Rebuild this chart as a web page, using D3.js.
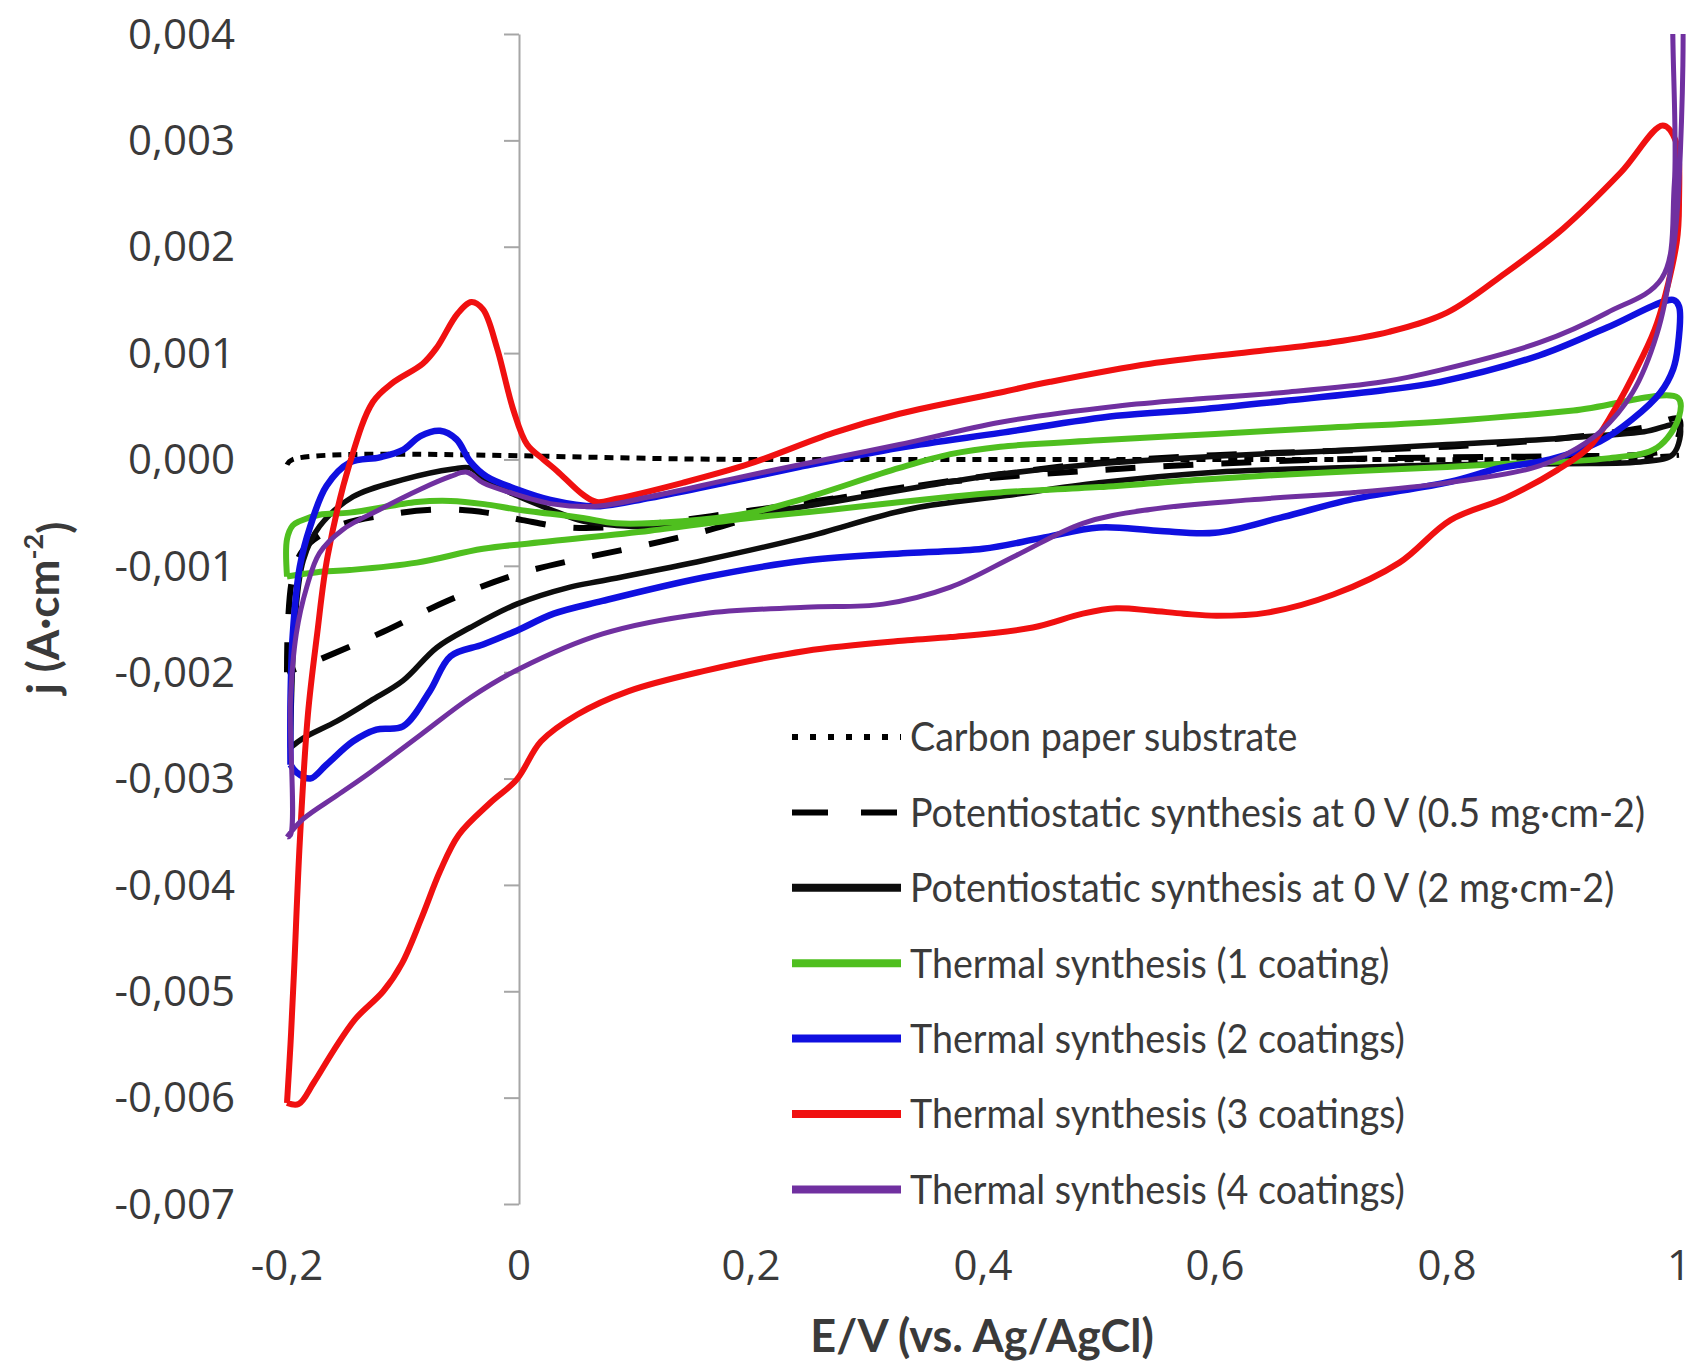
<!DOCTYPE html>
<html>
<head>
<meta charset="utf-8">
<script src="https://cdn.jsdelivr.net/npm/d3@7"></script>
<style>
  body { margin: 0; background: #fff; }
  svg { display: block; }
</style>
</head>
<body>
<div id="chart"></div>
<script>
// axis ticks and labels
const xTicks = [-0.2, 0, 0.2, 0.4, 0.6, 0.8, 1];
const xTickLabels = ['-0,2', '0', '0,2', '0,4', '0,6', '0,8', '1'];
const yTicks = [0.004, 0.003, 0.002, 0.001, 0, -0.001, -0.002, -0.003, -0.004, -0.005, -0.006, -0.007];
const yTickLabels = ['0,004', '0,003', '0,002', '0,001', '0,000', '-0,001', '-0,002', '-0,003', '-0,004', '-0,005', '-0,006', '-0,007'];

const seriesNames = [
    'Carbon paper substrate',
    'Potentiostatic synthesis at 0 V (0.5 mg\u00b7cm-2)',
    'Potentiostatic synthesis at 0 V (2 mg\u00b7cm-2)',
    'Thermal synthesis (1 coating)',
    'Thermal synthesis (2 coatings)',
    'Thermal synthesis (3 coatings)',
    'Thermal synthesis (4 coatings)'
];

// [E (V), j (A/cm2)], each one a full CV loop
const carbonPaper = [[-0.2,-0.00005],[-0.195,0],[0.2,0],[0.6,0],[0.95,0.00001],[1.0,0.00004]];

const potentio05 = [[-0.2,-0.0020],[-0.199,-0.0015],[-0.195,-0.0011],[-0.186,-0.00085],[-0.157,-0.00063],[-0.114,-0.00052],
    [-0.065,-0.00047],[-0.028,-0.0005],[0.003,-0.00057],[0.044,-0.00064],[0.1,-0.00062],[0.2,-0.00048],[0.3,-0.00032],
    [0.4,-0.00016],[0.5,-0.00003],[0.6,0.00004],[0.7,0.00008],[0.8,0.00012],[0.9,0.0002],[0.97,0.0003],[1.0,0.00038],
    [0.995,0.00012],[0.97,0.00005],[0.9,0.00003],[0.8,0.00002],[0.7,0],[0.6,-0.00004],[0.5,-0.0001],[0.4,-0.00018],
    [0.34,-0.00025],[0.283,-0.00035],[0.234,-0.00044],[0.165,-0.00066],[0.107,-0.00081],[0.05,-0.00094],[-0.005,-0.00109],
    [-0.062,-0.00133],[-0.117,-0.00162],[-0.174,-0.00189],[-0.2,-0.002]];

const potentio2 = [[-0.197,-0.00271],[-0.196,-0.0022],[-0.193,-0.0015],[-0.186,-0.00095],[-0.172,-0.00063],[-0.143,-0.00035],
    [-0.1,-0.00019],[-0.057,-0.00009],[-0.042,-0.00008],[-0.028,-0.0002],[-0.002,-0.00034],[0.027,-0.00047],[0.055,-0.00058],
    [0.084,-0.00062],[0.12,-0.00063],[0.2,-0.00052],[0.27,-0.0004],[0.35,-0.00025],[0.415,-0.00014],[0.5,-0.00004],
    [0.6,0.00003],[0.7,0.00008],[0.8,0.00014],[0.9,0.0002],[0.97,0.00026],[1.0,0.00032],
    [0.995,0.00005],[0.97,-0.00002],[0.9,-0.00004],[0.8,-0.00005],[0.7,-0.00008],[0.6,-0.00012],[0.5,-0.00022],
    [0.42,-0.00034],[0.335,-0.00047],[0.247,-0.00073],[0.159,-0.00095],[0.072,-0.00114],[0.044,-0.0012],[-0.002,-0.00136],
    [-0.042,-0.00158],[-0.071,-0.00177],[-0.1,-0.00208],[-0.128,-0.00227],[-0.157,-0.00246],[-0.186,-0.00262],[-0.197,-0.00271]];

const thermal1 = [[-0.2,-0.0011],[-0.2,-0.00075],[-0.195,-0.00062],[-0.189,-0.00058],[-0.172,-0.00052],[-0.146,-0.0005],
    [-0.088,-0.0004],[-0.059,-0.00039],[-0.03,-0.00042],[-0.002,-0.00047],[0.055,-0.00055],[0.084,-0.0006],[0.141,-0.00058],
    [0.2,-0.0005],[0.242,-0.00038],[0.328,-0.00008],[0.372,0.00005],[0.415,0.00012],[0.5,0.00018],[0.6,0.00024],[0.7,0.0003],
    [0.8,0.00036],[0.909,0.00046],[0.999,0.00058],
    [1.0,0.0004],[0.981,0.00011],[0.938,0.00001],[0.851,-0.00004],[0.8,-0.00007],[0.7,-0.00012],[0.587,-0.00019],
    [0.5,-0.00026],[0.415,-0.00031],[0.372,-0.00035],[0.271,-0.00047],[0.199,-0.00055],[0.113,-0.00067],[0.027,-0.00077],
    [-0.031,-0.00084],[-0.088,-0.00097],[-0.146,-0.00104],[-0.174,-0.00106],[-0.2,-0.0011]];

const thermal2 = [[-0.197,-0.00287],[-0.197,-0.00227],[-0.195,-0.00164],[-0.189,-0.00101],[-0.18,-0.00063],[-0.166,-0.00025],
    [-0.146,-0.00003],[-0.12,0.00002],[-0.1,0.00009],[-0.085,0.00022],[-0.068,0.00027],[-0.054,0.00019],[-0.042,-0.00002],
    [-0.028,-0.00016],[-0.002,-0.00028],[0.027,-0.00038],[0.067,-0.00044],[0.113,-0.00036],[0.185,-0.0002],[0.242,-0.00007],
    [0.328,0.00011],[0.415,0.00025],[0.515,0.00041],[0.587,0.00047],[0.659,0.00055],[0.745,0.00065],[0.794,0.00073],
    [0.88,0.00098],[0.938,0.00124],[0.995,0.0015],
    [1.0,0.00144],[0.999,0.00106],[0.995,0.00085],[0.984,0.00063],[0.96,0.00038],[0.932,0.00017],[0.889,0],[0.846,-0.00008],
    [0.803,-0.00021],[0.716,-0.00038],[0.659,-0.00054],[0.6,-0.00069],[0.55,-0.00067],[0.5,-0.00064],[0.45,-0.00074],
    [0.4,-0.00084],[0.335,-0.00088],[0.247,-0.00095],[0.159,-0.00111],[0.072,-0.00133],[0.03,-0.00145],[-0.002,-0.00161],
    [-0.031,-0.00174],[-0.059,-0.00185],[-0.077,-0.00218],[-0.1,-0.00251],[-0.123,-0.00254],[-0.143,-0.00265],
    [-0.166,-0.00287],[-0.18,-0.003],[-0.192,-0.00294],[-0.197,-0.00287]];

const thermal3 = [[-0.2,-0.00605],[-0.197,-0.0055],[-0.194,-0.00483],[-0.189,-0.0036],[-0.182,-0.0024],[-0.174,-0.00164],
    [-0.165,-0.00091],[-0.146,-0.00004],[-0.126,0.00054],[-0.109,0.00072],[-0.083,0.0009],[-0.071,0.00105],[-0.053,0.00137],
    [-0.041,0.00148],[-0.031,0.00141],[-0.019,0.00105],[-0.005,0.00047],[0.007,0.00014],[0.021,0],[0.033,-0.00011],
    [0.055,-0.00033],[0.067,-0.0004],[0.084,-0.00037],[0.141,-0.00022],[0.199,-0.00004],[0.271,0.00025],[0.328,0.00043],
    [0.415,0.00063],[0.458,0.00073],[0.544,0.0009],[0.63,0.00101],[0.7,0.0011],[0.75,0.0012],[0.8,0.00138],
    [0.85,0.00175],[0.9,0.00217],[0.95,0.0027],[0.986,0.00314],[0.997,0.003],[1.0,0.0024],
    [0.998,0.00204],[0.981,0.00128],[0.966,0.00091],[0.943,0.00044],[0.923,0.00012],[0.895,-0.0001],[0.851,-0.00036],
    [0.803,-0.00057],[0.759,-0.00097],[0.702,-0.00127],[0.645,-0.00144],[0.601,-0.00147],[0.573,-0.00145],[0.544,-0.00142],
    [0.515,-0.0014],[0.486,-0.00145],[0.443,-0.00158],[0.372,-0.00167],[0.335,-0.0017],[0.247,-0.0018],[0.159,-0.00199],
    [0.094,-0.00218],[0.05,-0.0024],[0.019,-0.00265],[-0.002,-0.00301],[-0.025,-0.00323],[-0.052,-0.00353],[-0.068,-0.00387],
    [-0.084,-0.00431],[-0.101,-0.00474],[-0.117,-0.005],[-0.141,-0.00526],[-0.16,-0.00556],[-0.177,-0.00586],
    [-0.19,-0.00606],[-0.2,-0.00605]];

const thermal4 = [[-0.2,-0.00355],[-0.197,-0.00353],[-0.197,-0.00227],[-0.192,-0.00164],[-0.183,-0.0012],[-0.172,-0.00088],
    [-0.152,-0.00066],[-0.12,-0.00047],[-0.085,-0.00028],[-0.059,-0.00016],[-0.045,-0.00012],[-0.031,-0.00022],
    [-0.008,-0.00031],[0.03,-0.00042],[0.067,-0.00044],[0.113,-0.00035],[0.185,-0.00018],[0.242,-0.00005],[0.328,0.00014],
    [0.415,0.00035],[0.515,0.0005],[0.587,0.00057],[0.659,0.00063],[0.745,0.00073],[0.794,0.00084],[0.88,0.0011],
    [0.938,0.00138],[0.985,0.0017],[0.996,0.0026],[0.997,0.0045],
    [1.0,0.0045],[1.0,0.0026],[0.993,0.0018],[0.981,0.00118],[0.96,0.00063],[0.932,0.00026],[0.903,0.00005],[0.874,-0.00008],
    [0.8,-0.00022],[0.72,-0.00031],[0.63,-0.00038],[0.544,-0.00047],[0.486,-0.0006],[0.429,-0.0009],[0.372,-0.0012],
    [0.314,-0.00136],[0.247,-0.00139],[0.159,-0.00145],[0.072,-0.00164],[0,-0.00197],[-0.042,-0.00224],[-0.085,-0.00259],
    [-0.128,-0.00294],[-0.157,-0.00316],[-0.186,-0.00338],[-0.2,-0.00355]];

const seriesData = [carbonPaper, potentio05, potentio2, thermal1, thermal2, thermal3, thermal4];
const seriesColors = ['#000000', '#000000', '#0d0d0d', '#4fbf1f', '#1010e0', '#f01010', '#7030a0'];
const seriesDash = ['9,7', '30,28', null, null, null, null, null];
const seriesWidth = [5, 6, 5.5, 6, 6.5, 6, 5];

const width = 1698;
const height = 1366;

const svg = d3.select('#chart')
    .append('svg')
        .attr('width', width)
        .attr('height', height)
        .style('background', '#fff');

const x = d3.scaleLinear().domain([-0.2, 1.0]).range([287, 1679]);
const y = d3.scaleLinear().domain([-0.007, 0.004]).range([1204, 34]);

// plot area clip, the spike at 1 V runs over the top
svg.append('defs').append('clipPath')
    .attr('id', 'plot-clip')
    .append('rect')
        .attr('x', x(-0.2) - 10)
        .attr('y', y(0.004))
        .attr('width', x(1.0) - x(-0.2) + 20)
        .attr('height', y(-0.007) - y(0.004));

// y axis sits on E = 0
const yAxis = d3.axisLeft(y)
    .tickValues(yTicks)
    .tickSize(15)
    .tickSizeOuter(0)
    .tickFormat('');

const gY = svg.append('g')
    .attr('transform', `translate(${x(0)},0)`)
    .call(yAxis);
gY.select('.domain').attr('stroke', '#a6a6a6').attr('stroke-width', 2);
gY.selectAll('.tick line').attr('stroke', '#a6a6a6').attr('stroke-width', 2);

// tick labels sit at the low side of the plot
svg.append('g')
    .selectAll('text')
    .data(yTicks)
    .join('text')
        .attr('x', 235)
        .attr('y', d => y(d))
        .attr('dy', '0.35em')
        .attr('text-anchor', 'end')
        .attr('font-family', 'Open Sans, sans-serif')
        .attr('font-size', 42)
        .attr('fill', '#3a3a3a')
        .text((d, i) => yTickLabels[i]);

svg.append('g')
    .selectAll('text')
    .data(xTicks)
    .join('text')
        .attr('x', d => x(d))
        .attr('y', 1265)
        .attr('dy', '0.35em')
        .attr('text-anchor', 'middle')
        .attr('font-family', 'Open Sans, sans-serif')
        .attr('font-size', 42)
        .attr('fill', '#3a3a3a')
        .text((d, i) => xTickLabels[i]);

// axis titles
svg.append('text')
    .attr('x', 982)
    .attr('y', 1336)
    .attr('dy', '0.35em')
    .attr('text-anchor', 'middle')
    .attr('font-family', 'Lato, sans-serif')
    .attr('font-weight', 'bold')
    .attr('font-size', 45)
    .attr('fill', '#3a3a3a')
    .text('E/V (vs. Ag/AgCl)');

const yTitle = svg.append('text')
    .attr('transform', 'translate(44,608) rotate(-90)')
    .attr('dy', '0.35em')
    .attr('text-anchor', 'middle')
    .attr('font-family', 'Lato, sans-serif')
    .attr('font-weight', 'bold')
    .attr('font-size', 44)
    .attr('fill', '#3a3a3a');
yTitle.append('tspan').text('j (A\u00b7cm');
yTitle.append('tspan').attr('dy', '-0.6em').attr('font-size', 27).text('-2');
yTitle.append('tspan').attr('dy', '0.6em').text(')');

// curves
const line = d3.line()
    .x(d => x(d[0]))
    .y(d => y(d[1]))
    .curve(d3.curveCatmullRom.alpha(0.5));

svg.append('g')
    .attr('clip-path', 'url(#plot-clip)')
    .selectAll('path')
    .data(seriesData)
    .join('path')
        .attr('d', d => line(d))
        .attr('fill', 'none')
        .attr('stroke', (d, i) => seriesColors[i])
        .attr('stroke-width', (d, i) => seriesWidth[i])
        .attr('stroke-dasharray', (d, i) => seriesDash[i])
        .attr('stroke-linejoin', 'round');

// legend
const legendX = 792;
const legendY = 737;
const legendStep = 75.4;

const legend = svg.append('g');
const rows = legend.selectAll('g')
    .data(seriesNames)
    .join('g')
        .attr('transform', (d, i) => `translate(${legendX},${legendY + i * legendStep})`);

rows.append('line')
    .attr('x1', 0)
    .attr('x2', 109)
    .attr('stroke', (d, i) => seriesColors[i])
    .attr('stroke-width', (d, i) => i < 2 ? 6 : 8)
    .attr('stroke-dasharray', (d, i) => i === 0 ? '6,12' : (i === 1 ? '36,33' : null));

const labels = rows.append('text')
    .attr('x', 0)
    .attr('y', 0)
    .attr('dy', '0.35em')
    .attr('font-family', 'Lato, sans-serif')
    .attr('font-size', 41)
    .attr('fill', '#3a3a3a')
    .text(d => d);

// squeeze the labels a bit so the longest one fits like the original
let longest = 0;
labels.each(function () { longest = Math.max(longest, this.getComputedTextLength()); });
const squeeze = Math.min(1, 735 / longest);
labels.attr('transform', `translate(118,0) scale(${squeeze},1)`);
</script>
</body>
</html>
